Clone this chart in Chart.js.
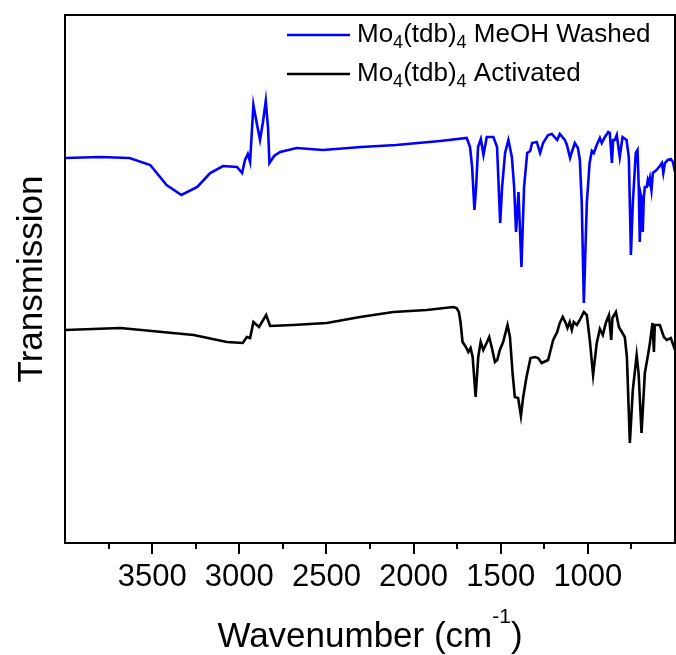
<!DOCTYPE html>
<html>
<head>
<meta charset="utf-8">
<script src="https://cdn.jsdelivr.net/npm/chart.js@4.4.1/dist/chart.umd.min.js"></script>
<style>
  html, body { margin: 0; background: #fff; }
  #wrap { width: 676px; height: 655px; position: relative; }
</style>
</head>
<body>
<div id="wrap"><canvas id="ir-chart"></canvas></div>
<script>
// transmission in arbitrary units
const washedWn = [4000, 3800, 3630, 3511, 3417, 3332, 3241, 3167, 3093, 3013, 2984, 2967, 2951, 2938, 2919, 2900, 2881, 2865, 2848, 2835, 2827, 2800, 2766, 2670, 2520, 2300, 2100, 1848, 1695, 1676, 1664, 1651, 1641, 1630, 1614, 1599, 1580, 1542, 1521, 1503, 1492, 1475, 1456, 1436, 1423, 1412, 1398, 1381, 1366, 1348, 1331, 1320, 1293, 1274, 1257, 1228, 1207, 1176, 1161, 1132, 1120, 1102, 1092, 1075, 1057, 1046, 1035, 1023, 1006, 990, 977, 966, 949, 931, 920, 902, 883, 874, 862, 855, 845, 834, 817, 801, 778, 765, 757, 753, 742, 725, 715, 708, 702, 696, 690, 685, 679, 673, 662, 656, 650, 644, 635, 627, 606, 587, 575, 567, 558, 541, 524, 512, 500];
const washedT = [390, 391, 390, 383, 363, 353, 361, 375, 382, 381, 375, 388, 394, 386, 443, 425, 408, 425, 447, 420, 385, 392, 396, 400, 398, 401, 403, 407, 410, 401, 381, 338, 361, 401, 409, 393, 411, 411, 401, 325, 361, 395, 408, 391, 361, 316, 356, 281, 361, 395, 397, 405, 406, 395, 405, 413, 414, 408, 414, 408, 403, 390, 396, 405, 400, 388, 345, 245, 345, 385, 397, 395, 403, 410, 405, 411, 416, 415, 385, 408, 408, 413, 391, 411, 408, 391, 328, 293, 345, 395, 398, 361, 306, 353, 348, 316, 351, 361, 361, 368, 365, 370, 358, 375, 378, 382, 385, 375, 385, 388, 389, 386, 376];

const activatedWn = [4000, 3683, 3262, 3071, 2980, 2957, 2938, 2919, 2887, 2846, 2823, 2690, 2498, 2307, 2116, 1925, 1772, 1753, 1740, 1730, 1719, 1700, 1686, 1673, 1661, 1644, 1629, 1615, 1600, 1581, 1566, 1552, 1533, 1520, 1505, 1486, 1461, 1447, 1432, 1419, 1400, 1384, 1371, 1352, 1329, 1304, 1285, 1265, 1228, 1199, 1176, 1161, 1144, 1127, 1117, 1104, 1092, 1081, 1063, 1046, 1023, 1006, 989, 970, 949, 931, 914, 897, 879, 866, 859, 839, 822, 805, 788, 776, 759, 742, 720, 709, 692, 673, 652, 644, 629, 621, 616, 587, 564, 547, 524, 500];
const activatedT = [218, 220, 213, 206, 205, 211, 210, 226, 221, 233, 222, 223, 225, 231, 236, 238, 241, 240, 236, 225, 206, 201, 196, 200, 191, 151, 191, 206, 198, 205, 211, 201, 186, 188, 198, 206, 223, 211, 175, 151, 150, 132, 151, 171, 190, 191, 190, 185, 188, 208, 216, 225, 231, 225, 220, 226, 218, 226, 223, 228, 236, 233, 208, 173, 205, 219, 213, 225, 233, 208, 230, 236, 221, 216, 211, 191, 105, 158, 193, 175, 115, 175, 196, 205, 225, 196, 223, 223, 211, 208, 210, 198];

const tickLabels = [3500, 3000, 2500, 2000, 1500, 1000];

// legend text split into [text, isSubscript]
const washedLabel = [['Mo', 0], ['4', 1], ['(tdb)', 0], ['4', 1], [' MeOH Washed', 0]];
const activatedLabel = [['Mo', 0], ['4', 1], ['(tdb)', 0], ['4', 1], [' Activated', 0]];

const FONT = '"Liberation Sans", Arial, sans-serif';

function toPoints(xs, ys) {
    return xs.map((x, i) => ({ x: x, y: ys[i] }));
}

// runs of text: [text, size, dy]
function richWidth(ctx, runs) {
    let w = 0;
    for (const r of runs) {
        ctx.font = r[1] + 'px ' + FONT;
        w += ctx.measureText(r[0]).width;
    }
    return w;
}
function drawRuns(ctx, runs, x, y) {
    for (const r of runs) {
        ctx.font = r[1] + 'px ' + FONT;
        ctx.fillText(r[0], x, y + r[2]);
        x += ctx.measureText(r[0]).width;
    }
}

const decor = {
    id: 'decor',
    afterDraw(chart) {
        const ctx = chart.ctx;
        const a = chart.chartArea;
        const xs = chart.scales.x;
        ctx.save();
        ctx.strokeStyle = '#000';
        ctx.fillStyle = '#000';
        ctx.lineWidth = 2;
        ctx.strokeRect(a.left, a.top, a.right - a.left, a.bottom - a.top);

        // major and minor ticks below the frame
        for (let v = 750; v < 4000; v += 250) {
            const px = Math.round(xs.getPixelForValue(v));
            const len = v % 500 === 0 ? 11 : 6;
            ctx.beginPath();
            ctx.moveTo(px, a.bottom);
            ctx.lineTo(px, a.bottom + len);
            ctx.stroke();
        }

        ctx.textBaseline = 'alphabetic';
        ctx.textAlign = 'left';

        // x title with superscript
        const xt = [['Wavenumber (cm', 35, 0], ['-1', 21, -24], [')', 35, 0]];
        const cx = (a.left + a.right) / 2;
        drawRuns(ctx, xt, cx - richWidth(ctx, xt) / 2, 647);

        // y title
        ctx.save();
        ctx.translate(42, (a.top + a.bottom) / 2);
        ctx.rotate(-Math.PI / 2);
        ctx.font = '35px ' + FONT;
        ctx.textAlign = 'center';
        ctx.fillText('Transmission', 0, 0);
        ctx.restore();

        // legend
        const rows = [[washedLabel, 35, 42], [activatedLabel, 74, 81]];
        chart.data.datasets.forEach((ds, i) => {
            const [parts, ly, by] = rows[i];
            ctx.strokeStyle = ds.borderColor;
            ctx.lineWidth = 2.5;
            ctx.beginPath();
            ctx.moveTo(287, ly);
            ctx.lineTo(350, ly);
            ctx.stroke();
            const runs = parts.map(p => p[1] ? [p[0], 18, 6] : [p[0], 26, 0]);
            drawRuns(ctx, runs, 357, by);
        });
        ctx.restore();
    }
};

new Chart(document.getElementById('ir-chart'), {
    type: 'line',
    data: {
        datasets: [{
            label: 'Mo4(tdb)4 MeOH Washed',
            data: toPoints(washedWn, washedT),
            borderColor: '#0000ff',
            borderWidth: 2.6,
            pointRadius: 0,
            tension: 0
        }, {
            label: 'Mo4(tdb)4 Activated',
            data: toPoints(activatedWn, activatedT),
            borderColor: '#000000',
            borderWidth: 2.6,
            pointRadius: 0,
            tension: 0
        }]
    },
    options: {
        responsive: true,
        maintainAspectRatio: false,
        animation: false,
        layout: { padding: { left: 65, right: 1, top: 15, bottom: 0 } },
        plugins: { legend: { display: false }, tooltip: { enabled: false } },
        scales: {
            x: {
                type: 'linear',
                reverse: true,
                min: 500,
                max: 4000,
                // invisible tick marks only push the labels down
                grid: { display: true, drawOnChartArea: false, tickLength: 16, color: 'rgba(0,0,0,0)' },
                border: { display: false },
                afterFit: s => { s.height = 112; },
                ticks: {
                    stepSize: 500,
                    autoSkip: false,
                    maxRotation: 0,
                    padding: 0,
                    color: '#000',
                    font: { size: 31, family: FONT },
                    callback: v => tickLabels.includes(v) ? String(v) : ''
                }
            },
            y: {
                display: false,
                min: 5,
                max: 533
            }
        }
    },
    plugins: [decor]
});
</script>
</body>
</html>
